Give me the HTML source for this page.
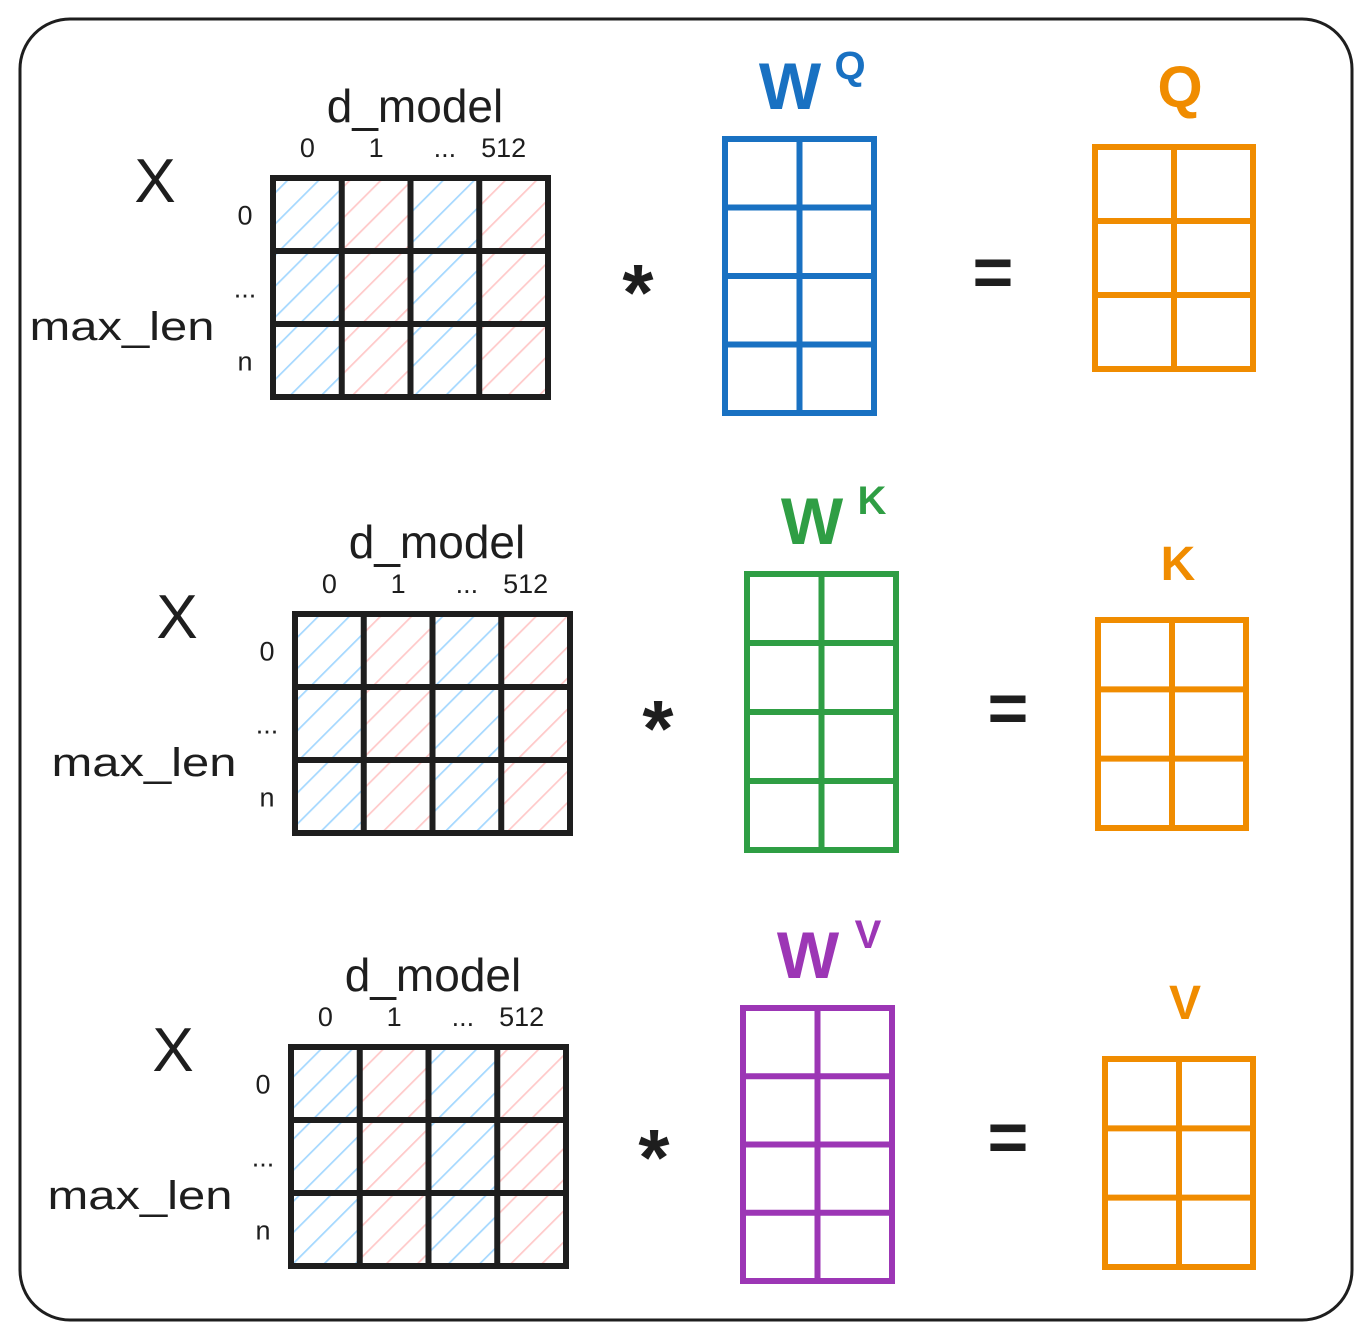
<!DOCTYPE html>
<html><head><meta charset="utf-8"><style>
html,body{margin:0;padding:0;background:#fff}
svg{display:block}
text{font-family:"Liberation Sans",sans-serif;fill:#1e1e1e}
</style></head><body>
<svg id="s" width="1371" height="1339" viewBox="0 0 1371 1339" xmlns="http://www.w3.org/2000/svg">
<defs>
<pattern id="hb" patternUnits="userSpaceOnUse" width="22" height="22" patternTransform="rotate(45)"><line x1="0" y1="0" x2="0" y2="22" stroke="#a5d8ff" stroke-width="3.5"/></pattern>
<pattern id="hr" patternUnits="userSpaceOnUse" width="22" height="22" patternTransform="rotate(45)"><line x1="0" y1="0" x2="0" y2="22" stroke="#ffc9c9" stroke-width="3.5"/></pattern>
</defs>
<rect x="20" y="19" width="1332" height="1301" rx="50" fill="none" stroke="#1e1e1e" stroke-width="3"/>
</svg>
<script>
const NS="http://www.w3.org/2000/svg";
const svg=document.getElementById('s');
const rowNames=['query','key','value'];
const rowDx=[0,22,18];
const rowDy=[0,436,869];
const wLetters=['Q','K','V'];
const wColors=['#1971c2','#2f9e44','#9c36b5'];
const colLabels=['0','1','...','512'];
const rowLabels=['0','...','n'];
const xCols=4, xRows=3, wCols=2, wRows=4, oCols=2, oRows=3;
const wBoxes=[[725,139,149,274],[747,574,149,276],[743,1008,149,273]];
const oBoxes=[[1095,147,158,222],[1098,620,148,208],[1105,1059,148,208]];
const outColor='#f08c00';
function el(tag,attrs,parent){const e=document.createElementNS(NS,tag);for(const k in attrs)e.setAttribute(k,attrs[k]);(parent||svg).appendChild(e);return e;}
function txt(x,y,s,size,fill,parent,weight){const t=el('text',{x:x,y:y,'font-size':size,'text-anchor':'middle','font-weight':weight||'normal'},parent);if(fill)t.style.fill=fill;t.textContent=s;return t;}
function grid(x,y,w,h,cols,rows,color,sw,parent,hatch){
  const cw=w/cols,rh=h/rows;
  if(hatch){for(let c=0;c<cols;c++){const r=el('rect',{x:x+c*cw,y:y,width:cw,height:h,fill:c%2?'url(#hr)':'url(#hb)'},parent);
    
    }}
  el('rect',{x:x,y:y,width:w,height:h,fill:'none',stroke:color,'stroke-width':sw},parent);
  for(let c=1;c<cols;c++)el('line',{x1:x+c*cw,y1:y,x2:x+c*cw,y2:y+h,stroke:color,'stroke-width':sw},parent);
  for(let r=1;r<rows;r++)el('line',{x1:x,y1:y+r*rh,x2:x+w,y2:y+r*rh,stroke:color,'stroke-width':sw},parent);
}
for(let i=0;i<3;i++){
  const dx=rowDx[i],dy=rowDy[i];
  const g=el('g',{});
  
  
  const mx=273+dx,my=178+dy,mw=275,mh=219;
  const gx=el('g',{},g);
  
  
  grid(mx,my,mw,mh,xCols,xRows,'#1e1e1e',6,gx,true);
  txt(415+dx,122+dy,'d_model',46,null,g);
  colLabels.forEach((l,c)=>{txt(mx+(c+0.5)*mw/xCols+(c==3?-10:0),157+dy,l,27,null,g);});
  rowLabels.forEach((l,r)=>{txt(245+dx,my+(r+0.5)*mh/xRows+10,l,27,null,g);});
  txt(155+dx,202+dy,'X',62,null,g);
  const ml=txt(122+dx,340+dy,'max_len',40,null,g);
  ml.setAttribute('textLength','185');
  ml.setAttribute('lengthAdjust','spacingAndGlyphs');
  txt(638+dx+(i?-2:0),320+dy+(i==2?-4:0),'*',80,null,g,'bold');
  const [wx,wy,ww,wh]=wBoxes[i];
  const gw=el('g',{},g);
  
  
  grid(wx,wy,ww,wh,wCols,wRows,wColors[i],6,gw,false);
  txt(wx+65,wy-30,'W',66,wColors[i],g,'bold');
  txt(wx+125,wy-60,wLetters[i],40,wColors[i],g,'bold');
  txt(993+(i?15:0),296+dy+(i==2?-4:0),'=',70,null,g,'bold');
  const [ox,oy,ow,oh]=oBoxes[i];
  const go=el('g',{},g);
  
  
  grid(ox,oy,ow,oh,oCols,oRows,outColor,6,go,false);
  txt(ox+ow/2+6,oy-40,wLetters[i],i==0?58:48,outColor,g,'bold');
}
</script>
</body></html>
